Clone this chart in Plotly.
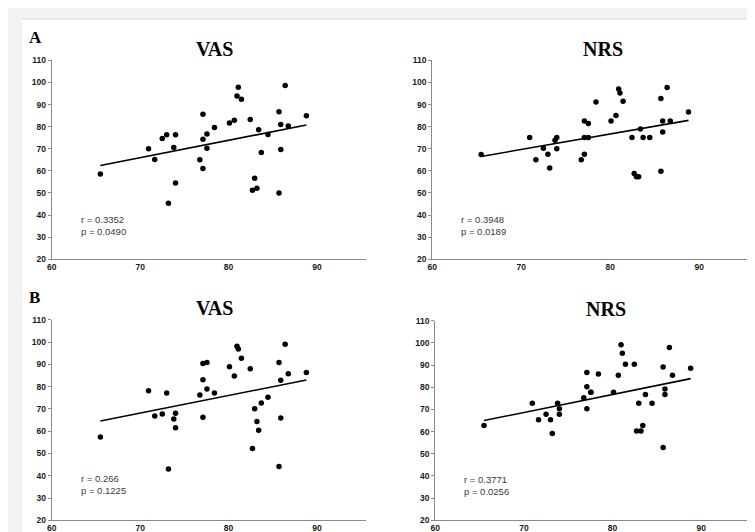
import numpy as np
import plotly.graph_objects as go

W, H = 755, 532

# shared x values (subjects)
x_vals = [65.5, 70.95, 71.65, 72.5, 73.0, 73.2, 73.8, 74.0, 74.0, 76.75, 77.1, 77.1, 77.1,
          77.55, 77.55, 78.4, 80.1, 80.65, 80.95, 81.1, 81.45, 82.45, 82.7, 82.95, 83.2,
          83.4, 83.7, 84.45, 85.7, 85.7, 85.9, 85.9, 86.4, 86.75, 88.8]

vas_a = [58.6, 70.0, 65.2, 74.6, 76.4, 45.3, 70.6, 76.3, 54.5, 65.0, 85.6, 74.3, 61.1,
         76.7, 70.2, 79.6, 81.7, 82.9, 93.9, 97.8, 92.4, 83.2, 51.2, 56.7, 52.1,
         78.6, 68.3, 76.5, 50.0, 86.8, 81.0, 69.7, 98.6, 80.3, 85.0]

nrs_a = [67.4, 75.1, 65.0, 70.2, 67.5, 61.3, 73.9, 75.1, 70.0, 65.0, 82.6, 75.1, 67.5,
         81.4, 75.1, 91.2, 82.6, 85.1, 97.0, 95.2, 91.5, 75.1, 58.8, 57.4, 57.3,
         78.9, 75.1, 75.1, 59.8, 92.7, 82.6, 77.6, 97.7, 82.6, 86.6]

vas_b = [57.4, 78.1, 66.8, 67.7, 77.1, 43.0, 65.5, 68.0, 61.5, 76.2, 90.4, 83.1, 66.3,
         90.8, 78.9, 77.1, 88.9, 84.8, 98.1, 96.9, 92.7, 88.0, 52.2, 70.1, 64.3,
         60.4, 72.6, 75.2, 44.1, 90.8, 82.9, 65.9, 99.0, 85.8, 86.4]

nrs_b = [62.8, 72.8, 65.3, 67.8, 65.3, 59.1, 72.8, 70.3, 67.8, 75.3, 86.7, 80.3, 70.3,
         77.8, 77.8, 86.0, 77.8, 85.4, 99.2, 95.4, 90.4, 90.4, 60.3, 72.8, 60.3,
         62.8, 76.7, 72.8, 52.8, 89.2, 79.2, 76.7, 97.9, 85.4, 88.6]

titles = ["VAS", "NRS", "VAS", "NRS"]
stats = [("r = 0.3352", "p = 0.0490"), ("r = 0.3948", "p = 0.0189"),
         ("r = 0.266", "p = 0.1225"), ("r = 0.3771", "p = 0.0256")]
x_ticks = [60, 70, 80, 90]
y_ticks = [20, 30, 40, 50, 60, 70, 80, 90, 100, 110]

series = [vas_a, nrs_a, vas_b, nrs_b]

# pixel geometry of each panel: (x_left, x_right, y_top(110), y_bottom(20))
panels = [(39, 355, 48.3, 251), (422, 740, 48.3, 251),
          (39, 355, 312.7, 517), (425, 742, 313.7, 517)]

fig = go.Figure()
layout = {}
annotations = []
for i, (ys, (xl, xr, yt, yb)) in enumerate(zip(series, panels)):
    n = i + 1
    xa = "x" if n == 1 else f"x{n}"
    ya = "y" if n == 1 else f"y{n}"
    fig.add_trace(go.Scatter(x=x_vals, y=ys, mode="markers", xaxis=xa, yaxis=ya,
                             marker=dict(color="black", size=5.5), showlegend=False,
                             hoverinfo="skip"))
    slope, inter = np.polyfit(x_vals, ys, 1)
    lx = np.array([min(x_vals), max(x_vals)])
    fig.add_trace(go.Scatter(x=lx, y=slope * lx + inter, mode="lines", xaxis=xa, yaxis=ya,
                             line=dict(color="black", width=1.6), showlegend=False,
                             hoverinfo="skip"))
    axcommon = dict(showgrid=False, zeroline=False, showline=True, linecolor="#8a8a8a",
                    linewidth=1, ticks="outside", ticklen=3, tickcolor="#8a8a8a",
                    tickfont=dict(family="Liberation Sans, Arial", size=8.5, color="#1a1a1a",
                                  weight="bold"),
                    fixedrange=True)
    layout[f"xaxis{'' if n == 1 else n}"] = dict(
        axcommon, domain=[xl / W, xr / W], range=[60, 95.5], tickvals=x_ticks,
        anchor=ya, ticklen=0)
    layout[f"yaxis{'' if n == 1 else n}"] = dict(
        axcommon, domain=[1 - yb / H, 1 - yt / H], range=[20, 110], tickvals=y_ticks,
        anchor=xa)
    # title
    annotations.append(dict(text=f"<b>{titles[i]}</b>", x=(xl + 164 if i % 2 == 0 else xl + 172) / W,
                            y=1 - (yt - 12) / H, xref="paper", yref="paper",
                            showarrow=False, xanchor="center", yanchor="middle",
                            font=dict(family="Liberation Serif, Times New Roman", size=20,
                                      color="black")))
    annotations.append(dict(text=stats[i][0] + "<br>" + stats[i][1], x=(xl + 27) / W,
                            y=1 - (yt + 168) / H, xref="paper", yref="paper",
                            showarrow=False, xanchor="left", yanchor="middle", align="left",
                            font=dict(family="Liberation Sans, Arial", size=9.5, color="#3a3a3a")))

for lab, yy in [("A", 25), ("B", 290)]:
    annotations.append(dict(text=f"<b>{lab}</b>", x=14 / W, y=1 - yy / H, xref="paper",
                            yref="paper", showarrow=False, xanchor="left", yanchor="middle",
                            font=dict(family="Liberation Serif, Times New Roman", size=17,
                                      color="black")))

shapes = [
    dict(type="rect", xref="paper", yref="paper", x0=9 / W, x1=1, y0=0, y1=1 - 7 / H,
         fillcolor="white", line=dict(width=0), layer="below"),
    dict(type="rect", xref="paper", yref="paper", x0=9 / W, x1=1, y0=1 - 7 / H, y1=1 - 5 / H,
         fillcolor="#e6e6e6", line=dict(width=0), layer="below"),
]

fig.update_layout(width=W, height=H, margin=dict(l=0, r=0, t=0, b=0),
                  paper_bgcolor="#f3f3f3", plot_bgcolor="white",
                  annotations=annotations, shapes=shapes, **layout)

fig.write_html("out.html")
